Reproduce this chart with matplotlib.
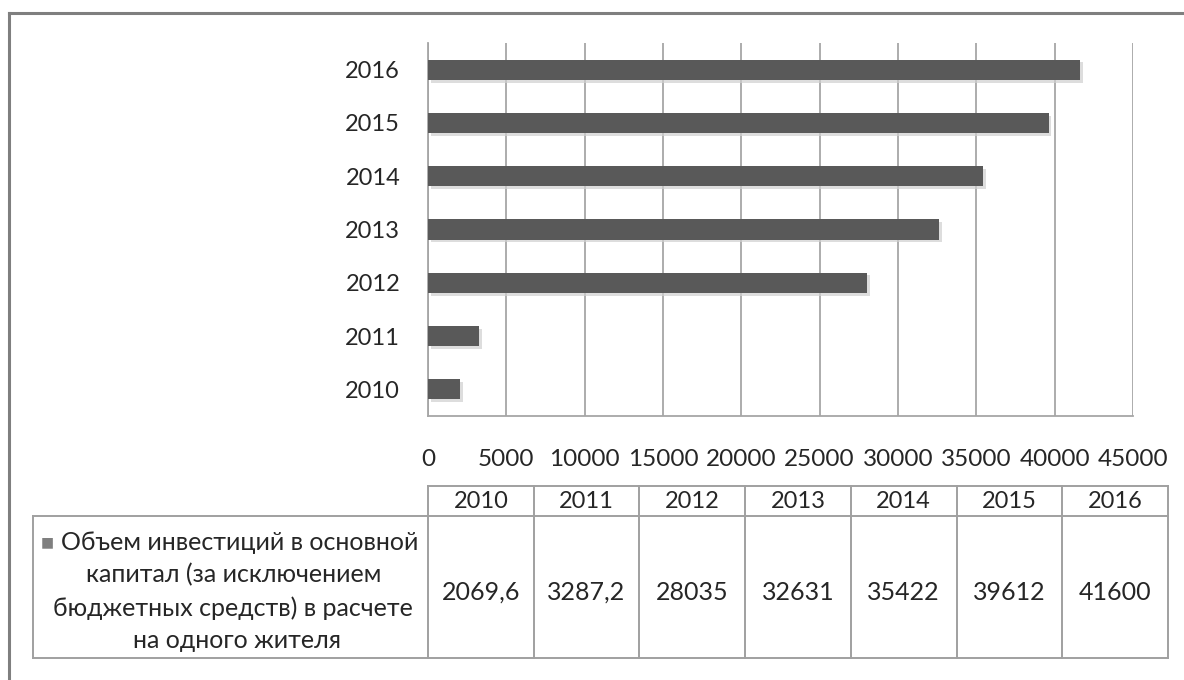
import numpy as np
import matplotlib.pyplot as plt
import matplotlib.patheffects as pe

# data
years = ['2010', '2011', '2012', '2013', '2014', '2015', '2016']
values = [2069.6, 3287.2, 28035, 32631, 35422, 39612, 41600]
row_label = ['Объем инвестиций в основной',
             'капитал (за исключением',
             'бюджетных средств) в расчете',
             'на одного жителя']
x_ticks = [0, 5000, 10000, 15000, 20000, 25000, 30000, 35000, 40000, 45000]

plt.rcParams['font.family'] = ['Lato', 'Open Sans', 'DejaVu Sans']
bar_color = '#595959'
grid_color = '#a6a6a6'
text_color = '#262626'

W, H = 1184, 680
fig = plt.figure(figsize=(W / 100, H / 100), dpi=100)
fig.patch.set_facecolor('white')

# bar chart
ax = fig.add_axes([428 / W, 1 - 416 / H, (1133 - 428) / W, (416 - 43) / H])
ypos = np.arange(len(years))
ax.barh(ypos, values, height=0.38, color=bar_color, zorder=3,
        path_effects=[pe.SimplePatchShadow(offset=(2, -2), shadow_rgbFace='#cfcfcf', alpha=0.7),
                      pe.Normal()])
ax.set_xlim(0, 45000)
ax.set_ylim(-0.5, len(years) - 0.5)
ax.set_yticks(ypos)
ax.set_yticklabels(years, fontsize=17, color=text_color)
ax.set_xticks(x_ticks)
ax.set_xticklabels([str(t) for t in x_ticks], fontsize=17.5, color=text_color)
ax.tick_params(axis='both', length=0)
ax.tick_params(axis='x', pad=24)
ax.tick_params(axis='y', pad=20)
ax.grid(axis='x', color=grid_color, linewidth=1.3, zorder=0)
for side in ['top', 'right']:
    ax.spines[side].set_visible(False)
for side in ['left', 'bottom']:
    ax.spines[side].set_color(grid_color)
    ax.spines[side].set_linewidth(1.3)

# overlay in pixel coords for the data table and the frame
ov = fig.add_axes([0, 0, 1, 1])
ov.set_xlim(0, W)
ov.set_ylim(H, 0)
ov.axis('off')
ov.patch.set_alpha(0)

line_kw = dict(color='#a0a0a0', linewidth=1.4)
x0, x1 = 428, 1168
lab_x0 = 33
h_top, h_bot, d_bot = 486, 516, 658
col_w = (x1 - x0) / len(years)

# horizontal lines
ov.plot([x0, x1], [h_top, h_top], **line_kw)
ov.plot([lab_x0, x1], [h_bot, h_bot], **line_kw)
ov.plot([lab_x0, x1], [d_bot, d_bot], **line_kw)
# vertical lines
ov.plot([lab_x0, lab_x0], [h_bot, d_bot], **line_kw)
for i in range(len(years) + 1):
    xx = x0 + i * col_w
    ov.plot([xx, xx], [h_top, d_bot], **line_kw)

for i, (yr, v) in enumerate(zip(years, values)):
    cx = x0 + (i + 0.5) * col_w
    ov.text(cx, (h_top + h_bot) / 2 + 1, yr, ha='center', va='center',
            fontsize=17, color=text_color)
    txt = f'{v:g}'.replace('.', ',')
    ov.text(cx, (h_bot + d_bot) / 2 + 5, txt, ha='center', va='center',
            fontsize=18, color=text_color)

# row label with legend key
line_y = [543, 575, 608, 640]
line_x = [240, 234, 233, 237]
for ln, lx, ly in zip(row_label, line_x, line_y):
    ov.text(lx, ly, ln, ha='center', va='center', fontsize=18, color=text_color)
ov.text(47, 542, '\u25a0', ha='center', va='center', fontsize=10, color='#7f7f7f')

# outer frame
ov.plot([9, W], [13, 13], color='#7f7f7f', linewidth=2.2)
ov.plot([9, 9], [13, H], color='#7f7f7f', linewidth=2.2)

fig.savefig('out.png', dpi=100)
